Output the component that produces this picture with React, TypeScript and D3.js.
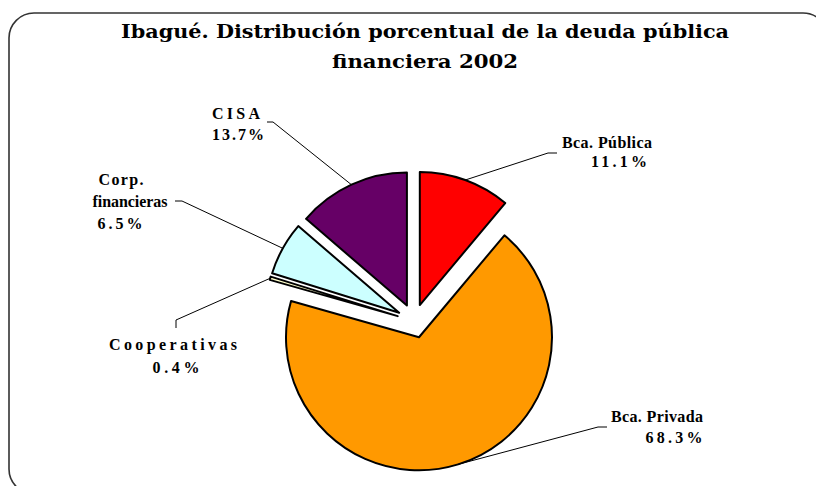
import React from "react";
import * as d3 from "d3";

const categories = ["Bca. Pública", "Bca. Privada", "Cooperativas", "Corp. financieras", "CISA"];
const values = [11.1, 68.3, 0.4, 6.5, 13.7];
const valueLabels = ["11.1%", "68.3%", "0.4%", "6.5%", "13.7%"];
const labelLines = [["Bca. Pública"], ["Bca. Privada"], ["Cooperativas"], ["Corp.", "financieras"], ["CISA"]];
const colors = ["#FF0000", "#FF9900", "#FFFFCC", "#CCFFFF", "#660066"];
const titleLines = ["Ibagué. Distribución porcentual de la deuda pública", "financiera 2002"];

// label layout (text line centers / baselines, leader elbow points)
const labelLayout = [
  { xs: [607, 619], ys: [148, 167], lens: [90, 56], leader: [[557, 153], [548, 153]] },
  { xs: [657, 674], ys: [422, 443], lens: [92, 57], leader: [[607, 427], [598, 427]] },
  { xs: [173, 176], ys: [350, 373], lens: [128, 47], leader: [[176, 328], [176, 320]] },
  { xs: [121, 130, 120], ys: [185, 207, 229], lens: [45, 75, 45], leader: [[175, 201], [182, 201]] },
  { xs: [236, 238], ys: [119, 140], lens: [48, 52], leader: [[267, 122], [273, 122]] },
];

const W = 816, H = 486;
const cx = 414, cy = 321, R = 133, explode = 17;

export default function App() {
  const pie = d3.pie<number>().sort(null).value((d) => d).startAngle(0).endAngle(2 * Math.PI);
  const arcs = pie(values);
  const arcGen = d3.arc<d3.PieArcDatum<number>>().innerRadius(0).outerRadius(R);
  const fontLab = "'Liberation Serif', 'Times New Roman', serif";
  return (
    <svg width={W} height={H} style={{ position: "absolute", left: 0, top: 0, background: "#fff" }}>
      <rect x={9} y={13} width={819} height={481} rx={25} ry={25} fill="#fff" stroke="#333" strokeWidth={1.6} />
      {titleLines.map((t, i) => (
        <text key={t} x={425} y={38 + i * 30} textAnchor="middle" fontFamily="'DejaVu Serif', serif" fontWeight="bold"
          fontSize={18} fill="#000" textLength={i === 0 ? 608 : 186} lengthAdjust="spacingAndGlyphs">{t}</text>
      ))}
      {arcs.map((a, i) => {
        const mid = (a.startAngle + a.endAngle) / 2;
        const ox = cx + explode * Math.sin(mid);
        const oy = cy - explode * Math.cos(mid);
        const ex = ox + R * Math.sin(mid);
        const ey = oy - R * Math.cos(mid);
        const L = labelLayout[i];
        const pts = [...L.leader, [ex, ey]];
        const lines = [...labelLines[i], valueLabels[i]];
        return (
          <g key={categories[i]}>
            <path d={arcGen(a) || ""} transform={`translate(${ox},${oy})`} fill={colors[i]} stroke="#000" strokeWidth={2} strokeLinejoin="round" />
            <polyline points={pts.map((p) => p.join(",")).join(" ")} fill="none" stroke="#000" strokeWidth={1} />
            {lines.map((t, j) => (
              <text key={j} x={L.xs[j]} y={L.ys[j]} textAnchor="middle" fontFamily={fontLab} fontWeight="bold" fontSize={16}
                fill="#000" textLength={L.lens[j]} lengthAdjust="spacing">{t}</text>
            ))}
          </g>
        );
      })}
    </svg>
  );
}
